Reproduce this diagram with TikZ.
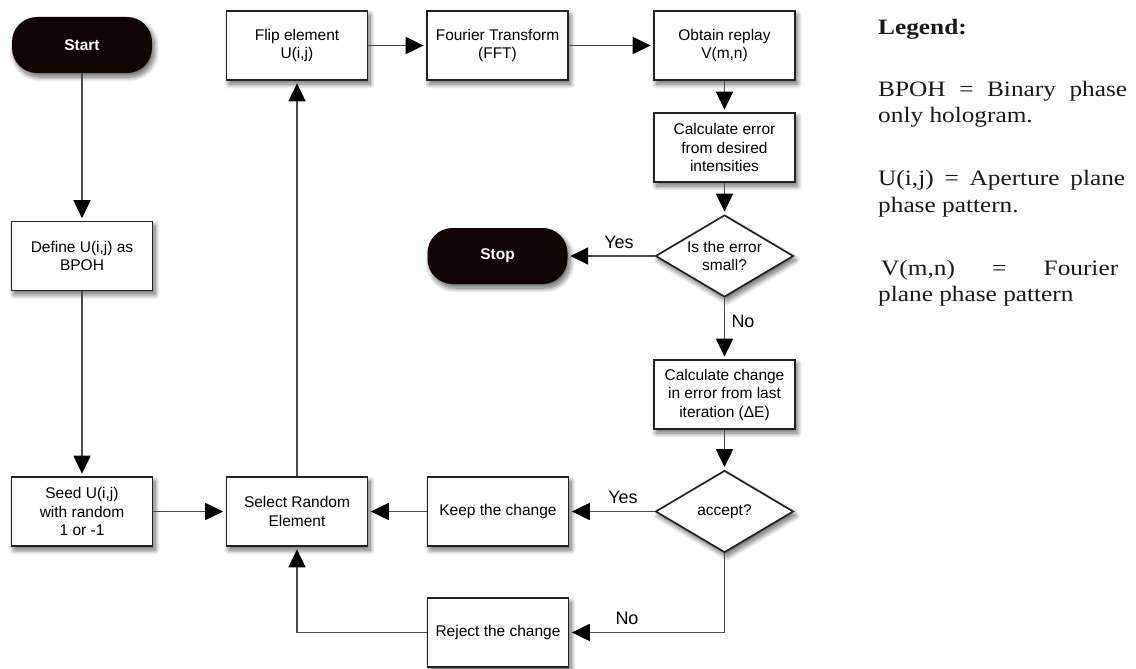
\documentclass[tikz,border=0pt]{standalone}
\usepackage{fontspec}
\setmainfont{Liberation Sans}
\newfontfamily\legendfont[FakeStretch=1.15]{Liberation Serif}
\usetikzlibrary{arrows.meta,shapes.geometric,shadows.blur}
\definecolor{linec}{HTML}{4A4A4A}
\definecolor{borderc}{HTML}{222222}
\definecolor{termc}{HTML}{100404}
\begin{document}
\begin{tikzpicture}[x=1pt,y=-1pt,
  shadowed/.style={blur shadow={shadow xshift=2.5pt,shadow yshift=-4pt,shadow blur radius=5pt,shadow blur steps=10,shadow opacity=60}},
  proc/.style={shadowed, draw=borderc, line width=1.7pt, fill=white, minimum width=141pt, minimum height=69pt, align=center, inner sep=2pt, font=\fontsize{15.5}{18.5}\selectfont, text=black},
  term/.style={shadowed, fill=termc, rounded corners=25pt, minimum width=140pt, minimum height=56pt, text=white, font=\bfseries\fontsize{15.5}{18}\selectfont},
  dec/.style={shadowed, diamond, draw=borderc, line width=1.7pt, fill=white, minimum width=138pt, minimum height=82pt, inner sep=0pt, aspect=1.68, align=center, font=\fontsize{15.5}{18.5}\selectfont, text=black},
  conn/.style={draw=linec, line width=1.8pt, -{Triangle[length=18pt,width=17pt,color=black]}, shorten >=2.5pt},
  lbl/.style={font=\fontsize{18}{20}\selectfont, text=black, inner sep=0pt},
  leg/.style={anchor=base west, inner sep=0pt, font=\legendfont\fontsize{22}{26}\selectfont, text=black!90}
]
\useasboundingbox (0,0) rectangle (1136,669);

% nodes
\node[term] (start) at (82,45) {Start};
\node[proc] (define) at (82,256) {Define U(i,j) as\\BPOH};
\node[proc] (seed) at (82,511.5) {Seed U(i,j)\\with random\\1 or -1};
\node[proc] (select) at (297,511.5) {Select Random\\Element};
\node[proc] (flip) at (297,45.5) {Flip element\\U(i,j)};
\node[proc] (fft) at (497.5,45.5) {Fourier Transform\\(FFT)};
\node[proc] (obtain) at (724.5,45.5) {Obtain replay\\V(m,n)};
\node[proc] (calcerr) at (724.5,147.5) {Calculate error\\from desired\\intensities};
\node[dec] (small) at (724.5,256) {Is the error\\small?};
\node[term] (stop) at (497.5,256) {Stop};
\node[proc] (calcchg) at (724.5,394.5) {Calculate change\\in error from last\\iteration (ΔE)};
\node[dec] (accept) at (724.5,511.5) {accept?};
\node[proc] (keep) at (498,511.5) {Keep the change};
\node[proc] (reject) at (498,632.5) {Reject the change};

% connectors
\draw[conn] (start) -- (define);
\draw[conn] (define) -- (seed);
\draw[conn] (seed) -- (select);
\draw[conn] (select) -- (flip);
\draw[conn] (flip) -- (fft);
\draw[conn] (fft) -- (obtain);
\draw[conn] (obtain) -- (calcerr);
\draw[conn] (calcerr) -- (small);
\draw[conn] (small) -- (stop);
\draw[conn] (small) -- (calcchg);
\draw[conn] (calcchg) -- (accept);
\draw[conn] (accept) -- (keep);
\draw[conn] (keep) -- (select);
\draw[conn] (accept.south) |- (reject.east);
\draw[conn] (reject.west) -| (select.south);

% labels
\node[lbl] (yes1) at (619,242) {Yes};
\node[lbl] (no1) at (743,321) {No};
\node[lbl] (yes2) at (623,497) {Yes};
\node[lbl] (no2) at (627,618) {No};

% legend
\node[leg] (legtitle) at (878,35) {\bfseries Legend:};
\node[leg] (l1a) at (878,96) {\makebox[249pt][s]{BPOH = Binary phase}};
\node[leg] (l1b) at (878,122) {only hologram.};
\node[leg] (l2a) at (878,185) {\makebox[247pt][s]{U(i,j) = Aperture plane}};
\node[leg] (l2b) at (878,212) {phase pattern.};
\node[leg] (l3a) at (881,275) {\makebox[237pt][s]{V(m,n) = Fourier}};
\node[leg] (l3b) at (878,301) {plane phase pattern};
\end{tikzpicture}
\end{document}
